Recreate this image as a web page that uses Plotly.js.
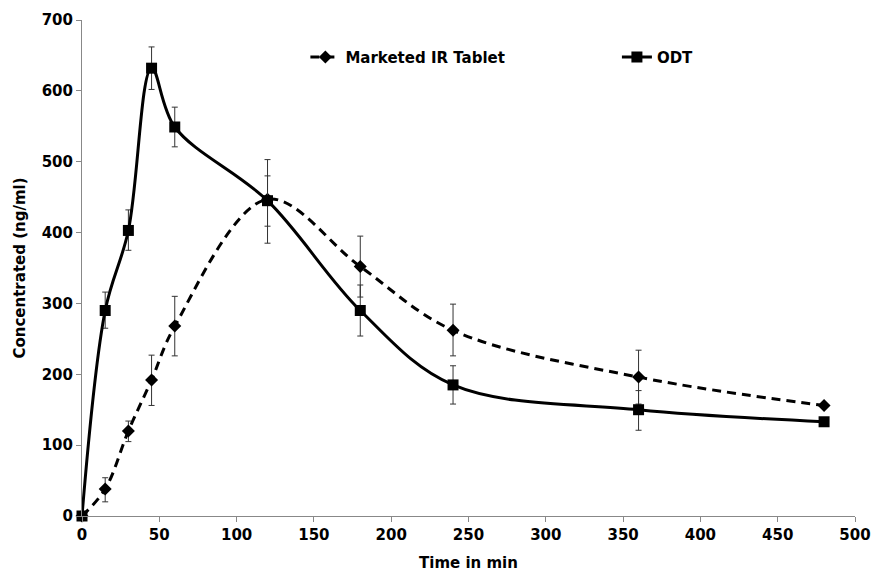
<!DOCTYPE html>
<html>
<head>
<meta charset="utf-8">
<script src="https://cdn.plot.ly/plotly-3.0.1.min.js"></script>
<style>html,body{margin:0;padding:0;background:#fff;}#chart{width:878px;height:573px;}</style>
</head>
<body>
<div id="chart"></div>
<script>
const time = [0, 15, 30, 45, 60, 120, 180, 240, 360, 480];
const irValues = [0, 38, 120, 192, 268, 447, 352, 262, 196, 156];
const irErrPlus = [0, 16, 14, 35, 42, 56, 43, 37, 38, 0];
const irErrMinus = [0, 18, 15, 36, 42, 62, 43, 36, 38, 0];
const odtValues = [0, 290, 403, 632, 549, 445, 290, 185, 150, 133];
const odtErrPlus = [0, 26, 29, 30, 28, 35, 36, 27, 27, 0];
const odtErrMinus = [0, 25, 28, 30, 28, 36, 36, 27, 29, 0];
const xTicks = [0, 50, 100, 150, 200, 250, 300, 350, 400, 450, 500];
const yTicks = [0, 100, 200, 300, 400, 500, 600, 700];

const fontFam = 'DejaVu Sans, Arial, sans-serif';
const legendFont = {family: fontFam, size: 15, color: '#000', weight: 'bold'};
const traces = [
  {
    x: time, y: irValues, name: 'Marketed IR Tablet', type: 'scatter', mode: 'lines+markers',
    line: {color: '#000', width: 3, dash: '9px,6px', shape: 'spline', smoothing: 1},
    marker: {symbol: 'diamond', size: 10, color: '#000'},
    error_y: {type: 'data', array: irErrPlus, arrayminus: irErrMinus, visible: true, color: '#333', thickness: 1, width: 3},
    cliponaxis: false, legend: 'legend'
  },
  {
    x: time, y: odtValues, name: 'ODT', type: 'scatter', mode: 'lines+markers',
    line: {color: '#000', width: 3, shape: 'spline', smoothing: 1},
    marker: {symbol: 'square', size: 11, color: '#000'},
    error_y: {type: 'data', array: odtErrPlus, arrayminus: odtErrMinus, visible: true, color: '#333', thickness: 1, width: 3},
    cliponaxis: false, legend: 'legend2'
  }
];
const layout = {
  width: 878, height: 573,
  margin: {l: 82, r: 23, t: 20, b: 57},
  paper_bgcolor: '#fff', plot_bgcolor: '#fff',
  font: {family: fontFam, size: 14, color: '#000', weight: 'bold'},
  showlegend: true,
  legend: {orientation: 'h', x: 0.289, y: 0.925, xanchor: 'left', yanchor: 'middle',
           font: legendFont, bgcolor: 'rgba(0,0,0,0)', itemwidth: 30},
  legend2: {orientation: 'h', x: 0.692, y: 0.925, xanchor: 'left', yanchor: 'middle',
           font: legendFont, bgcolor: 'rgba(0,0,0,0)', itemwidth: 30},
  xaxis: {
    range: [0, 500], tickvals: xTicks, ticktext: xTicks.map(String),
    showgrid: false, zeroline: false, showline: true, linecolor: '#888', linewidth: 1,
    ticks: 'outside', ticklen: 5, tickcolor: '#888',
    tickfont: {family: fontFam, size: 15, color: '#000', weight: 'bold'},
    title: {text: 'Time in min', font: {family: fontFam, size: 15, color: '#000', weight: 'bold'}, standoff: 14}
  },
  yaxis: {
    range: [0, 700], tickvals: yTicks, ticktext: yTicks.map(String),
    showgrid: false, zeroline: false, showline: true, linecolor: '#888', linewidth: 1,
    ticks: 'outside', ticklen: 5, tickcolor: '#888',
    tickfont: {family: fontFam, size: 15, color: '#000', weight: 'bold'},
    title: {text: 'Concentrated (ng/ml)', font: {family: fontFam, size: 15, color: '#000', weight: 'bold'}, standoff: 12}
  }
};
Plotly.newPlot('chart', traces, layout, {displayModeBar: false, responsive: false});
</script>
</body>
</html>
